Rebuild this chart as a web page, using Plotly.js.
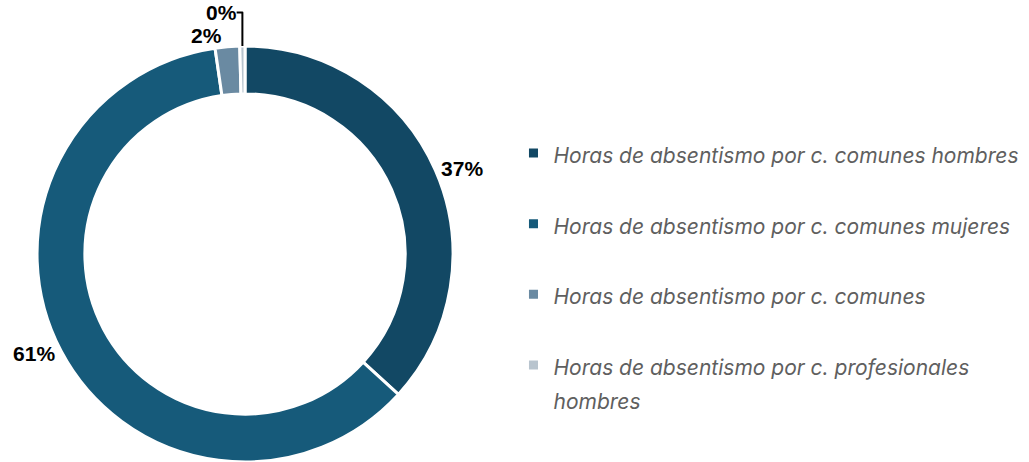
<!DOCTYPE html>
<html>
<head>
<meta charset="utf-8">
<script src="https://cdn.plot.ly/plotly-3.0.1.min.js"></script>
<style>
  html, body { margin: 0; padding: 0; background: #fff; }
  #grafica { width: 1029px; height: 462px; }
</style>
</head>
<body>
<div id="grafica"></div>
<script>
// Datos del gráfico (porcentaje de horas)
const categorias = [
    "Horas de absentismo por c. comunes hombres",
    "Horas de absentismo por c. comunes mujeres",
    "Horas de absentismo por c. comunes",
    "Horas de absentismo por c. profesionales<br>hombres"
];
const valores = [36.8, 60.9, 1.9, 0.4];
const colores = ["#124864", "#165a7a", "#6a8aa2", "#b8c4ce"];

// etiquetas de leyenda: texto a 21px, con una línea extra para el espaciado
const etiquetas = categorias.map(c => {
    const partes = c.split("<br>");
    if (partes.length < 2) partes.push("&nbsp;");
    return partes.map(p => `<span style="font-size:21px">${p}</span>`).join("<br>");
});

const fuenteEtiquetas = { family: 'Liberation Sans, Arial, sans-serif', size: 21, color: '#000000', weight: 'bold' };

const trace = {
    type: 'pie',
    labels: etiquetas,
    values: valores,
    hole: 0.77,
    sort: false,
    direction: 'clockwise',
    rotation: 0,
    marker: { colors: colores, line: { color: '#ffffff', width: 3 } },
    texttemplate: '%{percent:.0%}',
    textposition: 'outside',
    textfont: fuenteEtiquetas,
    outsidetextfont: fuenteEtiquetas,
    hoverinfo: 'label+percent',
    domain: { x: [0.036, 0.4402], y: [0, 0.9004] }
};

const layout = {
    width: 1029,
    height: 462,
    margin: { l: 0, r: 0, t: 0, b: 0 },
    paper_bgcolor: '#ffffff',
    showlegend: true,
    legend: {
        x: 0.499, xanchor: 'left',
        y: 0.7193, yanchor: 'top',
        valign: 'top',
        font: { family: 'Inter, Noto Sans, sans-serif', size: 26, color: '#5f5f5f', style: 'italic' },
        bgcolor: 'rgba(0,0,0,0)'
    }
};

Plotly.newPlot("grafica", [trace], layout, { displayModeBar: false, staticPlot: true });
</script>
</body>
</html>
